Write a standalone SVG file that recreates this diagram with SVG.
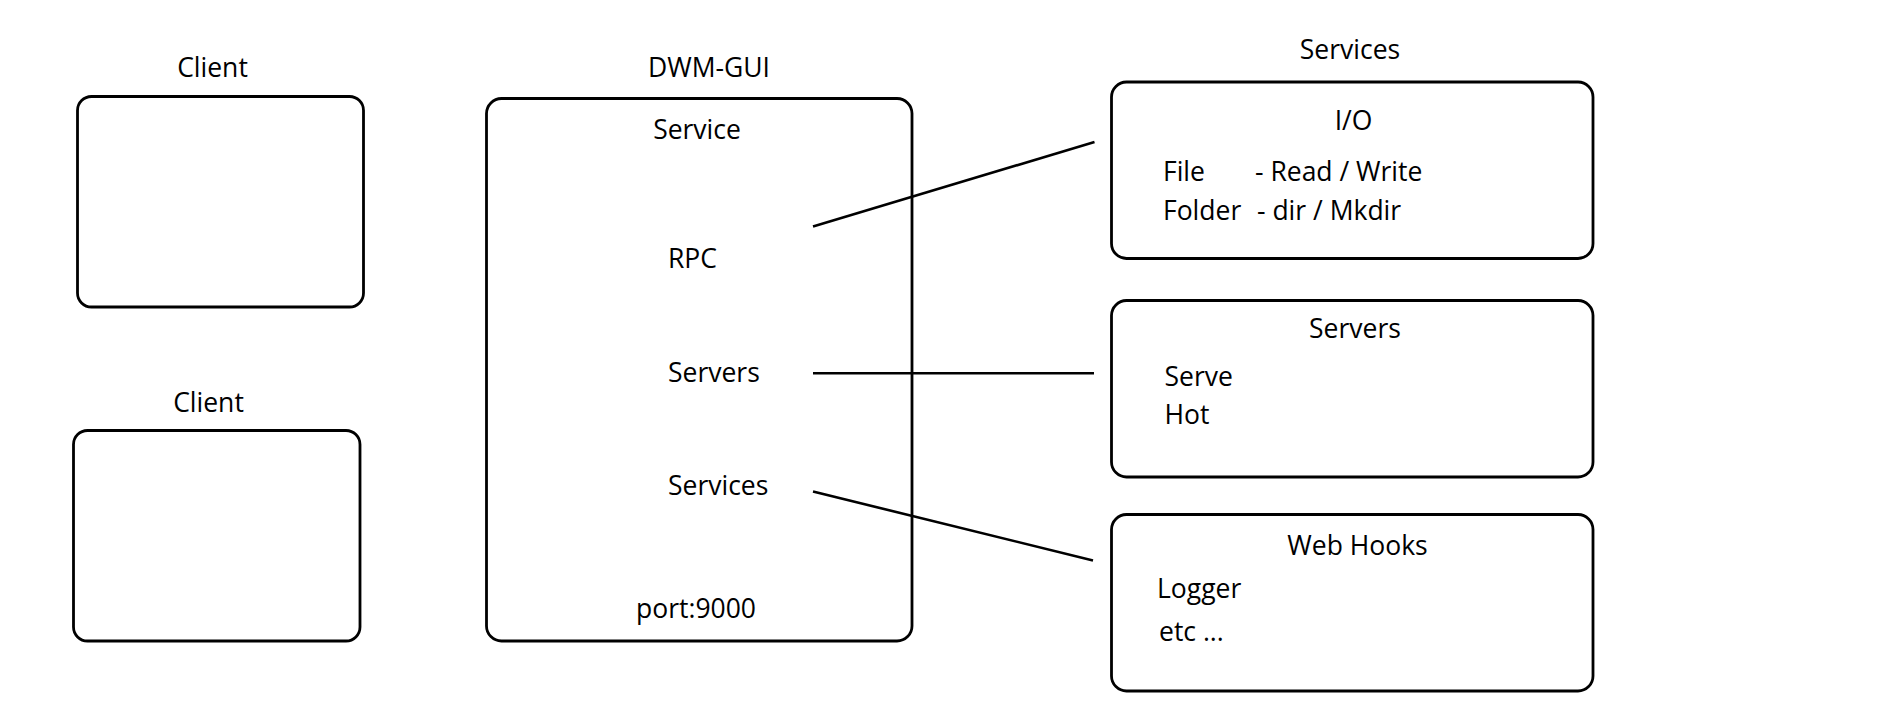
<svg xmlns="http://www.w3.org/2000/svg" width="1888" height="718" viewBox="0 0 1888 718">
<style>
  .box { fill: #ffffff; stroke: #000000; stroke-width: 2.8; }
  .t { font-family: "Open Sans", "Noto Sans", "Liberation Sans", sans-serif; font-size: 26.5px; fill: #000000; }
  .c { text-anchor: middle; }
  .conn line { stroke: #000000; stroke-width: 2.6; fill: none; }
</style>
<rect x="0" y="0" width="1888" height="718" fill="#ffffff"/>

<g id="client1">
  <text class="t c" x="212.5" y="77">Client</text>
  <rect class="box" x="77.5" y="96.5" width="286" height="210.5" rx="14" ry="14"/>
</g>

<g id="client2">
  <text class="t c" x="208.5" y="411.5">Client</text>
  <rect class="box" x="73.5" y="430.5" width="286.5" height="210.5" rx="14" ry="14"/>
</g>

<g id="dwm-gui">
  <text class="t c" x="709" y="77">DWM-GUI</text>
  <rect class="box" x="486.5" y="98.5" width="425.5" height="542.5" rx="15" ry="15"/>
  <text class="t c" x="697" y="139">Service</text>
  <text class="t" x="668" y="268">RPC</text>
  <text class="t" x="668" y="381.5">Servers</text>
  <text class="t" x="668" y="495">Services</text>
  <text class="t" x="636" y="618">port:9000</text>
</g>

<g id="services-title">
  <text class="t c" x="1350" y="59">Services</text>
</g>

<g id="io">
  <rect class="box" x="1111.5" y="82" width="481.5" height="176.5" rx="15" ry="15"/>
  <text class="t c" x="1353.5" y="130">I/O</text>
  <text class="t" y="181"><tspan x="1163">File</tspan><tspan x="1255">- Read / Write</tspan></text>
  <text class="t" y="220"><tspan x="1163">Folder</tspan><tspan x="1257">- dir / Mkdir</tspan></text>
</g>

<g id="servers">
  <rect class="box" x="1111.5" y="300.5" width="481.5" height="176.5" rx="15" ry="15"/>
  <text class="t c" x="1355" y="338">Servers</text>
  <text class="t" x="1164.5" y="385.5">Serve</text>
  <text class="t" x="1164.5" y="423.5">Hot</text>
</g>

<g id="webhooks">
  <rect class="box" x="1111.5" y="514.5" width="481.5" height="176.5" rx="15" ry="15"/>
  <text class="t c" x="1357.5" y="555">Web Hooks</text>
  <text class="t" x="1157" y="598">Logger</text>
  <text class="t" x="1159" y="641">etc ...</text>
</g>

<g id="connectors" class="conn">
  <line x1="813" y1="226.5" x2="1094.5" y2="142"/>
  <line x1="813" y1="373.3" x2="1094" y2="373.3"/>
  <line x1="813" y1="491.5" x2="1093" y2="560.5"/>
</g>
</svg>
